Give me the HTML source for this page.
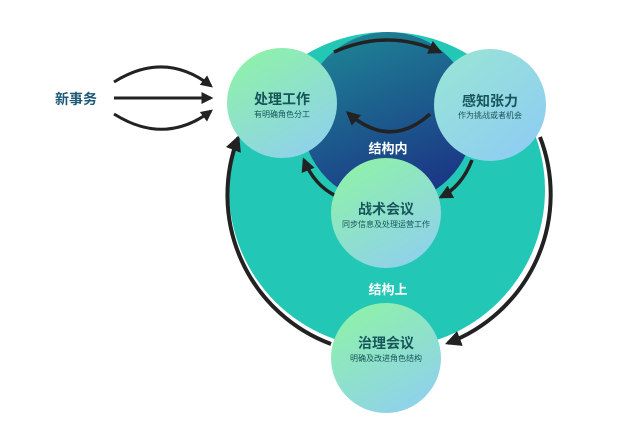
<!DOCTYPE html>
<html><head><meta charset="utf-8"><style>
html,body{margin:0;padding:0;background:#fff;}
svg{display:block;font-family:"Liberation Sans","Noto Sans CJK SC",sans-serif;}
</style></head><body>
<svg width="619" height="439" viewBox="0 0 619 439">
<defs>
<linearGradient id="dk" x1="0" y1="0" x2="0.4" y2="1">
<stop offset="0" stop-color="#1e8a96"/><stop offset="1" stop-color="#1b3a86"/>
</linearGradient>
<linearGradient id="nd" x1="0.2" y1="0" x2="0.8" y2="1">
<stop offset="0" stop-color="#8ef2a8"/><stop offset="1" stop-color="#8fd0ee"/>
</linearGradient>
<linearGradient id="nd2" x1="0" y1="0" x2="0.8" y2="1">
<stop offset="0" stop-color="#9ae6d4"/><stop offset="1" stop-color="#8ecdf2"/>
</linearGradient>
<marker id="ah" viewBox="0 0 10 10" refX="8" refY="5" markerWidth="4" markerHeight="4" orient="auto">
<path d="M0,0 L10,5 L0,10 z" fill="#222"/></marker>
</defs>
<circle cx="387" cy="190" r="158" fill="#22c7b6"/>
<circle cx="388" cy="118" r="86" fill="url(#dk)"/>
<!-- outer arcs -->
<path d="M540,137 A159,159 0 0 1 448,343" fill="none" stroke="#222" stroke-width="4" marker-end="url(#ah)"/>
<path d="M331,344 A159,159 0 0 1 238,138" fill="none" stroke="#222" stroke-width="4" marker-end="url(#ah)"/>
<!-- inner arrows -->
<path d="M334,52 Q388,28 440,52" fill="none" stroke="#222" stroke-width="3.5" marker-end="url(#ah)"/>
<path d="M430,114 Q390,150 348,113" fill="none" stroke="#222" stroke-width="3.5" marker-end="url(#ah)"/>
<path d="M336,196 Q314,185 304,160" fill="none" stroke="#222" stroke-width="3.5" marker-end="url(#ah)"/>
<path d="M472,160 Q462,186 441,197" fill="none" stroke="#222" stroke-width="3.5" marker-end="url(#ah)"/>
<!-- left arrows -->
<path d="M114,82 Q165,50 211,86" fill="none" stroke="#222" stroke-width="3" marker-end="url(#ah)"/>
<path d="M114,98 L211,98" fill="none" stroke="#222" stroke-width="3" marker-end="url(#ah)"/>
<path d="M114,114 Q165,146 211,111" fill="none" stroke="#222" stroke-width="3" marker-end="url(#ah)"/>
<text x="76" y="104" font-size="14" fill="#1c5a78" text-anchor="middle" font-weight="bold">新事务</text>
<circle cx="282" cy="103" r="55" fill="url(#nd)"/>
<circle cx="490" cy="105" r="56" fill="url(#nd2)"/>
<circle cx="386" cy="213" r="55" fill="url(#nd)"/>
<circle cx="386" cy="358" r="55" fill="url(#nd)"/>
<g text-anchor="middle" fill="#17555a">
<text x="282" y="104" font-size="14" font-weight="bold">处理工作</text>
<text x="282" y="117" font-size="8">有明确角色分工</text>
<text x="490" y="106" font-size="14" font-weight="bold">感知张力</text>
<text x="490" y="118" font-size="8">作为挑战或者机会</text>
<text x="386" y="214" font-size="14" font-weight="bold">战术会议</text>
<text x="386" y="227" font-size="8">同步信息及处理运营工作</text>
<text x="386" y="348" font-size="14" font-weight="bold">治理会议</text>
<text x="386" y="361" font-size="8">明确及改进角色结构</text>
</g>
<text x="388" y="153" font-size="13" fill="#fff" text-anchor="middle" font-weight="bold">结构内</text>
<text x="388" y="294" font-size="13" fill="#fff" text-anchor="middle" font-weight="bold">结构上</text>
</svg>
</body></html>
